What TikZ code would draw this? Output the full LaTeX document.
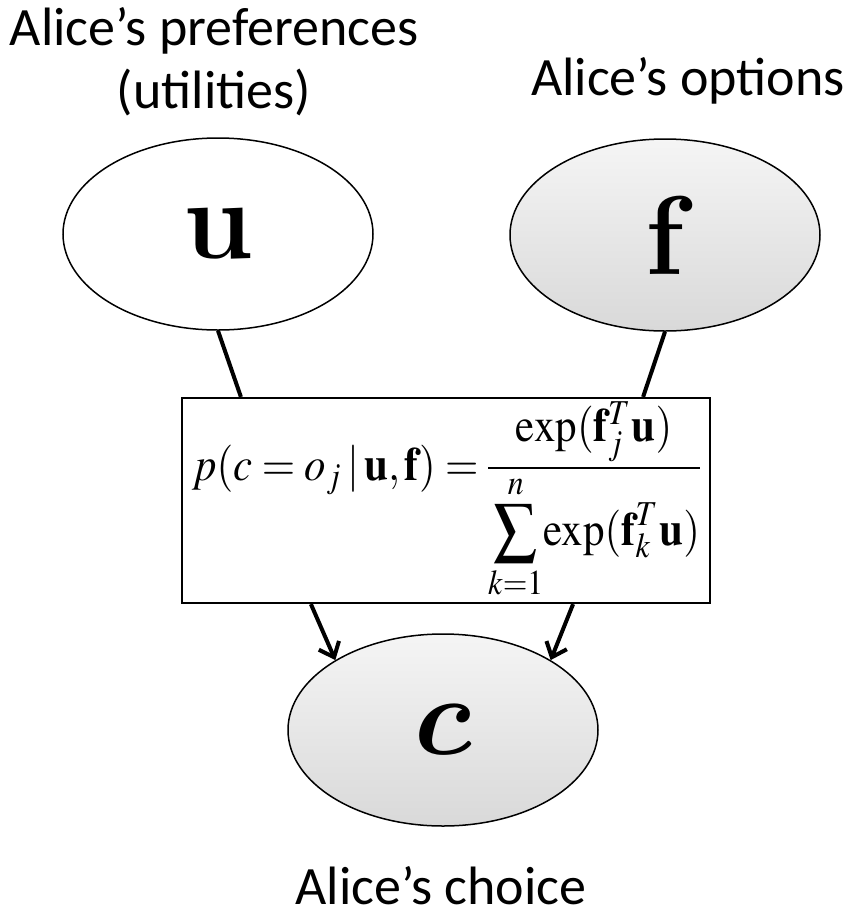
\documentclass[tikz,border=0pt]{standalone}
\usepackage{mathptmx}
\usepackage[no-math]{fontspec}
\setmainfont{Carlito}
\newfontfamily\cmfont{Latin Modern Roman}
\usetikzlibrary{shapes.geometric, arrows.meta}

\begin{document}
\begin{tikzpicture}[
    x=1pt, y=-1pt,
    var/.style={ellipse, draw, line width=1.5pt, minimum width=310pt, minimum height=192pt, inner sep=0pt, font=\cmfont\fontsize{112}{112}\selectfont\bfseries},
    hidden/.style={var, fill=white},
    observed/.style={var, top color=gray!8, bottom color=gray!30},
    formula/.style={rectangle, draw, line width=2.2pt, minimum width=528pt, minimum height=205pt, inner sep=0pt},
    link/.style={line width=4pt},
    arrow/.style={link, -{Straight Barb[length=13pt, width=22pt]}},
    caption/.style={font=\fontsize{54}{63}\selectfont, anchor=base, inner sep=0pt}
]
\useasboundingbox (0, 0) rectangle (852, 914);

% Captions
\node[caption] (pref) at (214, 45) {Alice’s preferences};
\node[caption] (util) at (214, 108) {(utilities)};
\node[caption] (opts) at (688, 95) {Alice’s options};
\node[caption] (choice) at (441, 904) {Alice’s choice};

% Variables
\node[hidden] (u) at (218, 234) {u};
\node[observed] (f) at (665, 235) {f};
\node[observed] (c) at (443, 730) {\scalebox{11.2}{\fontsize{10}{10}\usefont{OML}{cmm}{b}{it}c}};

% Choice model
\node[formula] (lik) at (446, 500.5) {\thickmuskip=4mu \medmuskip=2mu \nulldelimiterspace=0pt
  \scalebox{1}[1.1]{\resizebox{508pt}{!}{$\displaystyle p(c = o_j \,|\, \mathbf{u},\mathbf{f}) = \frac{\exp(\mathbf{f}_j^T\mathbf{u})}{\displaystyle\sum_{k=1}^{n}\!\exp(\mathbf{f}_k^T\mathbf{u})}$}}};

\draw[link] (u.south) -- ([xshift=60pt]lik.north west);
\draw[link] (f.south) -- ([xshift=-68pt]lik.north east);
\draw[arrow] ([xshift=130pt]lik.south west) -- (c.147);
\draw[arrow] ([xshift=-138pt]lik.south east) -- (c.33);

\end{tikzpicture}
\end{document}
